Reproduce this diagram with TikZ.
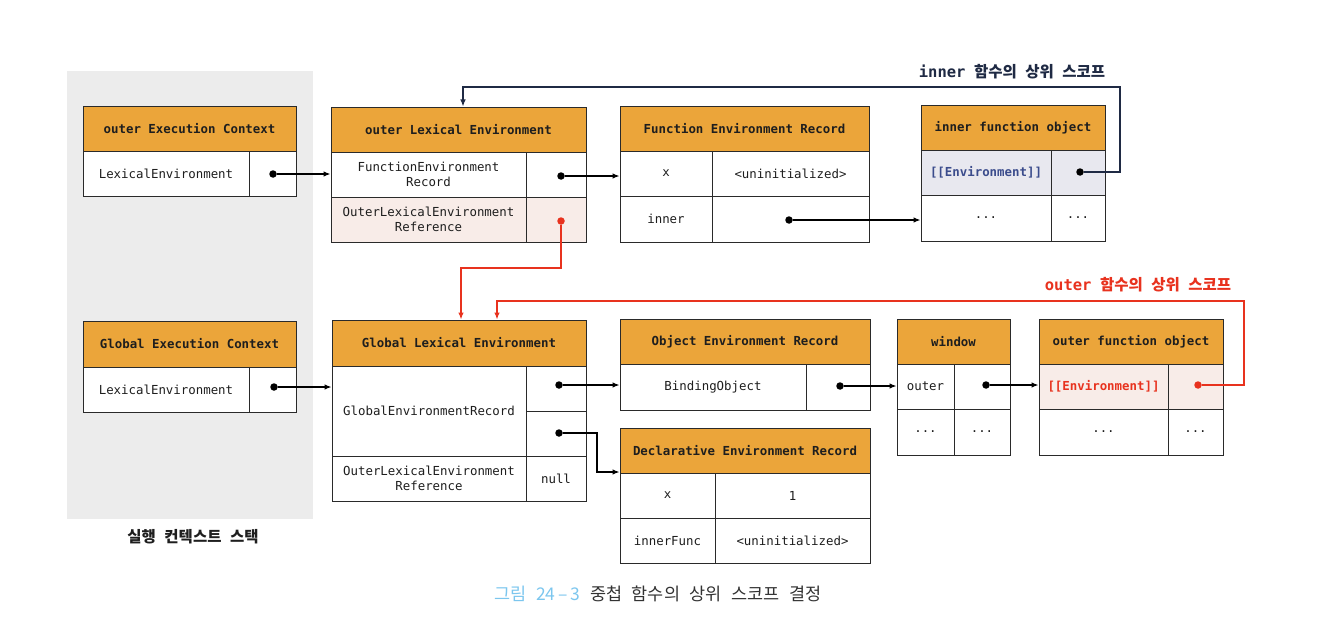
\documentclass[tikz,border=0pt]{standalone}
\usepackage{fontspec}
\setmonofont{DejaVu Sans Mono}
\newfontfamily\krfont{Noto Sans CJK KR}
\usetikzlibrary{arrows.meta}
\definecolor{hdr}{HTML}{EBA53A}
\definecolor{linec}{HTML}{2A2A2A}
\definecolor{textc}{HTML}{1E1E1E}
\definecolor{pinkc}{HTML}{F8ECE8}
\definecolor{lavc}{HTML}{E8E8EF}
\definecolor{redc}{HTML}{E8321E}
\definecolor{navyc}{HTML}{1F2A44}
\definecolor{envblue}{HTML}{3B4C8C}
\definecolor{bgc}{HTML}{ECECEC}
\definecolor{capblue}{HTML}{7CC6EE}
\definecolor{capc}{HTML}{333333}
\newcommand\wsp{\hspace{0.55em}}
\tikzset{
  box/.style={draw=linec, fill=white, line width=1pt, inner sep=0pt, align=center, text=textc,
    font=\fontsize{12.4}{15}\selectfont\ttfamily},
  hdrbox/.style={box, fill=hdr, font=\fontsize{12.4}{15}\selectfont\ttfamily\bfseries},
  pinkbox/.style={box, fill=pinkc},
  lavbox/.style={box, fill=lavc},
  dotn/.style={circle, fill=black, inner sep=0pt, minimum size=7.5pt},
  rdotn/.style={dotn, fill=redc},
  arr/.style={-{Latex[length=7pt,width=5.5pt]}, line width=1.2pt, draw=black},
  rarr/.style={arr, draw=redc},
  narr/.style={arr, draw=navyc},
}
\newcommand\mkcell[7]{\node[#6, minimum width={#4-#2}, minimum height={#5-#3}] (#1) at ({(#2+#4)/2},{(#3+#5)/2}) {#7};}
\begin{document}
\begin{tikzpicture}[x=1pt,y=-1pt]
\useasboundingbox (0,0) rectangle (1326,642);
\fill[bgc] (67,71) rectangle (313,519);
\node[font=\fontsize{15.5}{18}\selectfont\krfont\bfseries, text=textc] (stacklbl) at (193,537) {실행\wsp 컨텍스트\wsp 스택};

% outer Execution Context
\mkcell{oECh}{83}{106}{296}{151}{hdrbox}{outer Execution Context}
\mkcell{oEC1}{83}{151}{249}{196}{box}{LexicalEnvironment}
\mkcell{oEC1v}{249}{151}{296}{196}{box}{}
\node[dotn] (dOEC) at (273,174) {};

% outer Lexical Environment
\mkcell{oLEh}{331}{107}{586}{152}{hdrbox}{outer Lexical Environment}
\mkcell{oLE1}{331}{152}{526}{197}{box}{FunctionEnvironment\\Record}
\mkcell{oLE1v}{526}{152}{586}{197}{box}{}
\mkcell{oLE2}{331}{197}{526}{242}{pinkbox}{OuterLexicalEnvironment\\Reference}
\mkcell{oLE2v}{526}{197}{586}{242}{pinkbox}{}
\node[dotn] (dOLE1) at (561,176) {};
\node[rdotn] (dOLE2) at (561,221) {};

% Function Environment Record
\mkcell{ferh}{620}{106}{869}{151}{hdrbox}{Function Environment Record}
\mkcell{fer1}{620}{151}{712}{196}{box}{x}
\mkcell{fer1v}{712}{151}{869}{196}{box}{<uninitialized>}
\mkcell{fer2}{620}{196}{712}{242}{box}{inner}
\mkcell{fer2v}{712}{196}{869}{242}{box}{}
\node[dotn] (dFER) at (789,220) {};

% inner function object
\mkcell{ifoh}{921}{105}{1105}{150}{hdrbox}{inner function object}
\mkcell{ifo1}{921}{150}{1051}{195}{lavbox, text=envblue, font=\fontsize{12.4}{15}\selectfont\ttfamily\bfseries}{[[Environment]]}
\mkcell{ifo1v}{1051}{150}{1105}{195}{lavbox}{}
\mkcell{ifo2}{921}{195}{1051}{241}{box}{...}
\mkcell{ifo2v}{1051}{195}{1105}{241}{box}{...}
\node[dotn] (dIFO) at (1080,172) {};

\node[text=navyc] (lblinner) at (1012,72) {\fontsize{15.5}{18}\selectfont{\ttfamily\bfseries inner}\wsp{\krfont\bfseries 함수의\wsp 상위\wsp 스코프}};

% Global Execution Context
\mkcell{gECh}{83}{321}{296}{367}{hdrbox}{Global Execution Context}
\mkcell{gEC1}{83}{367}{249}{412}{box}{LexicalEnvironment}
\mkcell{gEC1v}{249}{367}{296}{412}{box}{}
\node[dotn] (dGEC) at (274,387) {};

% Global Lexical Environment
\mkcell{gLEh}{332}{320}{586}{366}{hdrbox}{Global Lexical Environment}
\mkcell{gLE1}{332}{366}{526}{456}{box}{GlobalEnvironmentRecord}
\mkcell{gLE1a}{526}{366}{586}{411}{box}{}
\mkcell{gLE1b}{526}{411}{586}{456}{box}{}
\mkcell{gLE2}{332}{456}{526}{501}{box}{OuterLexicalEnvironment\\Reference}
\mkcell{gLE2v}{526}{456}{586}{501}{box}{null}
\node[dotn] (dGLE1) at (559,385) {};
\node[dotn] (dGLE2) at (559,433) {};

% Object Environment Record
\mkcell{oerh}{620}{319}{870}{364}{hdrbox}{Object Environment Record}
\mkcell{oer1}{620}{364}{806}{410}{box}{BindingObject}
\mkcell{oer1v}{806}{364}{870}{410}{box}{}
\node[dotn] (dOER) at (840,386) {};

% window
\mkcell{winh}{897}{319}{1010}{364}{hdrbox}{window}
\mkcell{win1}{897}{364}{954}{409}{box}{outer}
\mkcell{win1v}{954}{364}{1010}{409}{box}{}
\mkcell{win2}{897}{409}{954}{455}{box}{...}
\mkcell{win2v}{954}{409}{1010}{455}{box}{...}
\node[dotn] (dWIN) at (986,385) {};

% outer function object
\mkcell{ofoh}{1039}{319}{1223}{364}{hdrbox}{outer function object}
\mkcell{ofo1}{1039}{364}{1168}{409}{pinkbox, text=redc, font=\fontsize{12.4}{15}\selectfont\ttfamily\bfseries}{[[Environment]]}
\mkcell{ofo1v}{1168}{364}{1223}{409}{pinkbox}{}
\mkcell{ofo2}{1039}{409}{1168}{455}{box}{...}
\mkcell{ofo2v}{1168}{409}{1223}{455}{box}{...}
\node[rdotn] (dOFO) at (1198,385) {};

\node[text=redc] (lblouter) at (1138,285) {\fontsize{15.5}{18}\selectfont{\ttfamily\bfseries outer}\wsp{\krfont\bfseries 함수의\wsp 상위\wsp 스코프}};

% Declarative Environment Record
\mkcell{derh}{620}{428}{870}{473}{hdrbox}{Declarative Environment Record}
\mkcell{der1}{620}{473}{715}{518}{box}{x}
\mkcell{der1v}{715}{473}{870}{518}{box}{1}
\mkcell{der2}{620}{518}{715}{563}{box}{innerFunc}
\mkcell{der2v}{715}{518}{870}{563}{box}{<uninitialized>}

% caption
\node[font=\fontsize{17.5}{20}\selectfont\krfont, text=capc] (cap) at (658,594) {\textcolor{capblue}{그림\wsp 24\,–\,3}\wsp 중첩\wsp 함수의\wsp 상위\wsp 스코프\wsp 결정};

% black connectors
\draw[arr] (dOEC) -- (dOEC -| oLE1.west);
\draw[arr] (dOLE1) -- (dOLE1 -| fer1.west);
\draw[arr] (dFER) -- (dFER -| ifo2.west);
\draw[arr] (dGEC) -- (dGEC -| gLE1.west);
\draw[arr] (dGLE1) -- (dGLE1 -| oer1.west);
\coordinate (elb) at (597,472);
\draw[arr] (dGLE2) -| (elb) -- (elb -| der1.west);
\draw[arr] (dOER) -- (dOER -| win1.west);
\draw[arr] (dWIN) -- (dWIN -| ofo1.west);

% scope connectors
\coordinate (iturn) at (1120,87);
\coordinate (itop) at (463,87);
\draw[narr] (dIFO) -| (iturn) -- (itop) -- (itop |- oLEh.north);
\coordinate (r1) at (461,268);
\draw[rarr] (dOLE2) |- (r1) -- (r1 |- gLEh.north);
\coordinate (r2a) at (1244,301);
\coordinate (r2b) at (497,301);
\draw[rarr] (dOFO) -| (r2a) -- (r2b) -- (r2b |- gLEh.north);
\end{tikzpicture}
\end{document}
